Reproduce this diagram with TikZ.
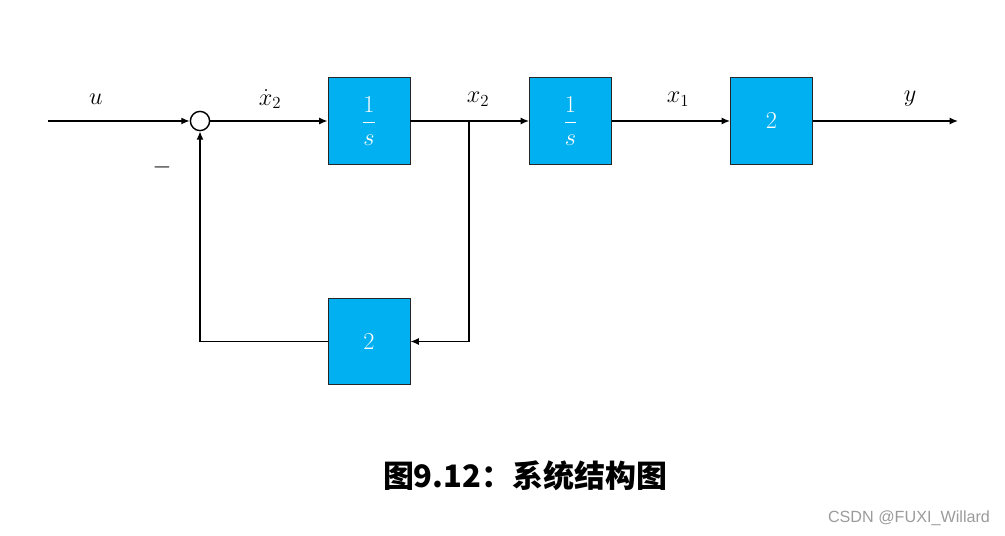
\documentclass[tikz,border=0pt]{standalone}
\usepackage{fontspec}
\setmainfont{Liberation Serif}
\newfontfamily\cjkfont{Noto Sans CJK SC}
\newfontfamily\markfont{Liberation Sans}
\usetikzlibrary{arrows.meta}
\definecolor{blockblue}{RGB}{0,176,240}
\definecolor{markgray}{RGB}{155,155,155}
\tikzset{
  block/.style={draw=black!85, line width=0.6pt, fill=blockblue, text=white,
    minimum width=2.05cm, minimum height=2.17cm, inner sep=0pt,
    font=\fontsize{19}{22}\selectfont},
  sumpt/.style={draw, circle, line width=1pt, minimum size=0.48cm, inner sep=0pt},
  sig/.style={font=\fontsize{17}{20}\selectfont},
  wire/.style={line width=1pt, -{Latex[length=6pt,width=5pt]}}
}
\begin{document}
\begin{tikzpicture}[x=0.025cm, y=-0.025cm]
  \useasboundingbox (0,0) rectangle (1005,536);
  \node[sumpt] (sum) at (200,121) {};
  \node[block] (b1) at (369,121) {$\displaystyle\frac{1}{s}$};
  \node[block] (b2) at (570.5,121) {$\displaystyle\frac{1}{s}$};
  \node[block] (b3) at (771.5,121) {$2$};
  \node[block] (b4) at (369,341.5) {$2$};
  \coordinate (in) at (48,121);
  \coordinate (out) at (958,121);
  \coordinate (br) at (469,121);
  % forward path
  \draw[wire] (in) -- (sum.west);
  \draw[wire] (sum.east) -- (b1.west);
  \draw[line width=1pt] (b1.east) -- (br);
  \draw[wire] (br) -- (b2.west);
  \draw[wire] (b2.east) -- (b3.west);
  \draw[wire] (b3.east) -- (out);
  % feedback
  \draw[wire] (br) |- (b4.east);
  \draw[wire] (b4.west) -| (sum.south);
  % labels
  \node[sig] (lu) at (96,99) {$u$};
  \node[sig] (ldx) at (270,99) {$\dot{x}_2$};
  \node[sig] (lx2) at (478,99) {$x_2$};
  \node[sig] (lx1) at (678,99) {$x_1$};
  \node[sig] (ly) at (910,99) {$y$};
  \node[sig] (minus) at (162,167) {$-$};
  \node[font=\cjkfont\bfseries\fontsize{22}{26}\selectfont] (cap) at (525,476) {图9.12：系统结构图};
  \node[font=\markfont\fontsize{11.5}{14}\selectfont, text=markgray] (mark) at (909,518) {CSDN @FUXI\_Willard};
\end{tikzpicture}
\end{document}
